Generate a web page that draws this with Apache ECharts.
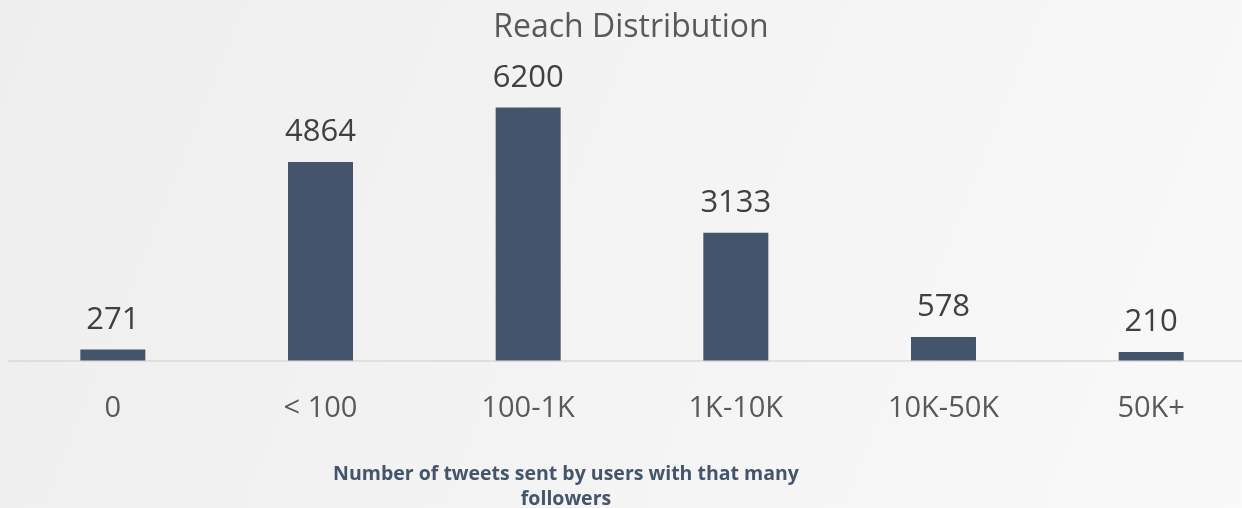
<!DOCTYPE html>
<html>
<head>
<meta charset="utf-8">
<script src="https://cdn.jsdelivr.net/npm/echarts@6/dist/echarts.min.js"></script>
<style>
html,body{margin:0;padding:0;background:#f3f3f3;overflow:hidden;width:1242px;height:508px;}
#c{width:1262px;height:508px;}
</style>
</head>
<body>
<div id="c"></div>
<script>
const categories = ['0', '< 100', '100-1K', '1K-10K', '10K-50K', '50K+'];
const tweetCounts = [271, 4864, 6200, 3133, 578, 210];
const chartTitle = 'Reach Distribution';
const axisTitle = 'Number of tweets sent by users with that many\nfollowers';

const chart = echarts.init(document.getElementById('c'), null, {renderer: 'canvas'});
chart.setOption({
  backgroundColor: new echarts.graphic.LinearGradient(0, 0, 1, 1, [
    {offset: 0, color: '#eeeeee'},
    {offset: 1, color: '#f9f9f9'}
  ]),
  animation: false,
  graphic: [
    {type: 'text', x: 631, y: 28, style: {text: chartTitle, align: 'center', verticalAlign: 'middle', fill: '#595959', font: '32px "Open Sans"'}},
    {type: 'text', x: 566, y: 487, style: {text: axisTitle, align: 'center', verticalAlign: 'middle', fill: '#44546a', font: 'bold 19.5px "Open Sans"', lineHeight: 25}}
  ],
  grid: {left: 9, width: 1246, top: 107.5, bottom: 147.5, containLabel: false},
  xAxis: {
    type: 'category',
    data: categories,
    axisLine: {lineStyle: {color: '#d9d9d9', width: 1.5}},
    axisTick: {show: false},
    axisLabel: {color: '#595959', fontSize: 29, fontFamily: 'Open Sans', margin: 34}
  },
  yAxis: {
    type: 'value',
    min: 0,
    max: 6200,
    show: false,
    splitLine: {show: false}
  },
  series: [{
    type: 'bar',
    data: tweetCounts,
    barWidth: 65,
    itemStyle: {color: '#44546a'},
    label: {show: true, position: 'top', distance: 14, color: '#404040', fontSize: 31, fontFamily: 'Open Sans'}
  }]
});
</script>
</body>
</html>
